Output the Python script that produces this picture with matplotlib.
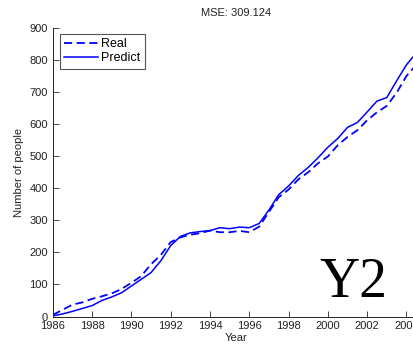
import matplotlib
matplotlib.use('Agg')
import matplotlib.pyplot as plt

# half-year samples, 1986 .. 2004.5
years = [1986 + 0.5 * i for i in range(38)]

real = [5, 21, 37, 44, 55, 63, 72, 86, 105, 126,
        163, 192, 232, 247, 255, 260, 268, 263, 263, 267,
        263, 280, 326, 372, 396, 428, 450, 478, 499, 534,
        560, 581, 612, 637, 657, 698, 750, 785]

predict = [2, 8, 16, 25, 34, 50, 61, 74, 95, 116,
           137, 174, 221, 250, 261, 265, 268, 277, 274, 279,
           277, 290, 332, 380, 407, 440, 465, 495, 528, 555,
           590, 605, 638, 672, 683, 735, 785, 822]

mse = 309.124
xticks = list(range(1986, 2006, 2))
yticks = list(range(0, 1000, 100))

plt.rcParams['font.family'] = ['Liberation Sans', 'DejaVu Sans']
plt.rcParams['font.size'] = 8

fig = plt.figure(figsize=(4.14, 3.45), dpi=100)
ax = fig.add_axes([0.1275, 0.0826, 0.885, 0.8362])

ax.plot(years, real, '--', color='#0000ff', lw=1.3, dashes=(4.5, 2.5), label='Real')
ax.plot(years, predict, '-', color='#0000ff', lw=1.1, label='Predict')

ax.set_xlim(1986, 2004.65)
ax.set_ylim(0, 900)
ax.set_xticks(xticks)
ax.set_yticks(yticks)
ax.tick_params(direction='in', length=4, width=0.6, color='#222222', labelcolor='#222222')
for s in ('top', 'right'):
    ax.spines[s].set_visible(False)
for s in ('left', 'bottom'):
    ax.spines[s].set_linewidth(0.7)
    ax.spines[s].set_color('#222222')

ax.set_xlabel('Year', labelpad=1, color='#222222')
ax.set_ylabel('Number of people', labelpad=4, color='#222222')
ax.set_title(f'MSE: {mse:.3f}', fontsize=8, pad=9, color='#222222')

leg = ax.legend(loc='upper left', bbox_to_anchor=(0.02, 0.979), borderaxespad=0,
                fancybox=False, handlelength=2.7, handletextpad=0.25, borderpad=0.35,
                labelspacing=0.15, framealpha=1, fontsize=9)
leg.get_frame().set_edgecolor('#555555')
leg.get_frame().set_linewidth(0.8)

fig.text(353 / 414, 1 - 297 / 345, 'Y2', family='Liberation Serif', fontsize=40,
         ha='center', va='baseline', color='black')

fig.savefig('out.png', dpi=100)
